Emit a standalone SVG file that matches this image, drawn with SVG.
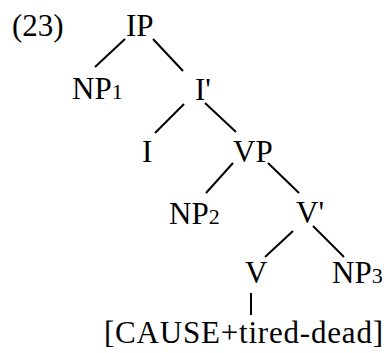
<svg xmlns="http://www.w3.org/2000/svg" width="384" height="353" viewBox="0 0 384 353">
<style>
text{font-family:"Liberation Serif","Times New Roman",serif;font-size:31px;fill:#000}
.sub{font-size:22px}
.edges line{stroke:#000;stroke-width:2;stroke-linecap:butt}
</style>
<rect width="384" height="353" fill="#fff"/>
<g id="label-23"><text x="12" y="36">(23)</text></g>
<g id="IP"><text x="126" y="36">IP</text></g>
<g id="NP1"><text x="72" y="99">NP<tspan class="sub">1</tspan></text></g>
<g id="Ibar"><text x="195" y="100">I'</text></g>
<g id="I"><text x="142" y="162">I</text></g>
<g id="VP"><text x="233" y="162">VP</text></g>
<g id="NP2"><text x="169" y="224">NP<tspan class="sub">2</tspan></text></g>
<g id="Vbar"><text x="296" y="223">V'</text></g>
<g id="V"><text x="245" y="283">V</text></g>
<g id="NP3"><text x="332" y="283">NP<tspan class="sub">3</tspan></text></g>
<g id="CAUSE"><text x="104" y="343" textLength="279" lengthAdjust="spacing">[CAUSE+tired-dead]</text></g>
<g class="edges" id="connectors">
<line x1="125" y1="39" x2="95" y2="67"/>
<line x1="153" y1="39" x2="183" y2="71"/>
<line x1="184" y1="104" x2="155" y2="133"/>
<line x1="205" y1="103" x2="236" y2="132"/>
<line x1="233" y1="163" x2="206" y2="193"/>
<line x1="268" y1="163" x2="299" y2="193"/>
<line x1="293" y1="231" x2="265" y2="257"/>
<line x1="313" y1="226" x2="344" y2="257"/>
<line x1="251" y1="293" x2="251" y2="315"/>
</g>
</svg>
